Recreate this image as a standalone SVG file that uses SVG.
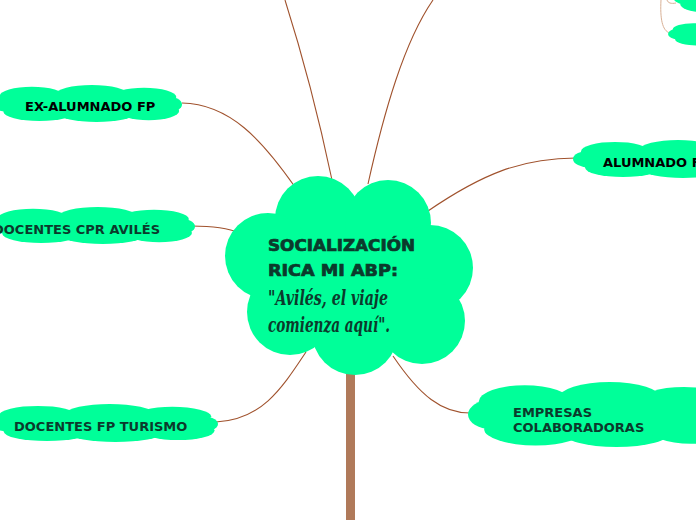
<svg xmlns="http://www.w3.org/2000/svg" xmlns:xlink="http://www.w3.org/1999/xlink" width="696" height="520" viewBox="0 0 696 520">
<style>
.cl{fill:#00FF99}
.con{fill:none;stroke:#a0522d;stroke-width:1.1}
.con2{fill:none;stroke:#d8b095;stroke-width:1}
.lbl{font-family:"DejaVu Sans",Verdana,sans-serif;font-weight:bold;font-size:13px}
.dk{fill:#0b3a2c}
.bk{fill:#000}
.ttl{font-family:"DejaVu Sans",sans-serif;font-weight:900;font-size:16px;fill:#0b3a2c;stroke:#0b3a2c;stroke-width:0.7}
.scr{font-family:"DejaVu Serif","Liberation Serif",serif;font-style:italic;font-weight:bold;font-size:20px;fill:#0b3a2c}
</style>
<defs>
<symbol id="cloud" viewBox="0 0 200 40" preserveAspectRatio="none">
<g class="cl">
<ellipse cx="42" cy="12" rx="34" ry="10"/>
<ellipse cx="105" cy="10" rx="38" ry="10"/>
<ellipse cx="160" cy="13" rx="34" ry="10"/>
<ellipse cx="17" cy="20" rx="17" ry="9"/>
<ellipse cx="183" cy="21" rx="17" ry="9"/>
<ellipse cx="50" cy="29" rx="38" ry="10"/>
<ellipse cx="110" cy="31" rx="40" ry="9"/>
<ellipse cx="165" cy="28" rx="32" ry="10"/>
<rect x="15" y="10" width="170" height="22"/>
</g>
</symbol>
</defs>
<rect width="696" height="520" fill="#fff"/>
<g id="connectors">
<rect x="346" y="368" width="9" height="152" fill="#b07a5a"/>
<path class="con" d="M332,180 Q312,85 285,0"/>
<path class="con" d="M368,184 C384,112 404,42 433,0"/>
<path class="con" d="M182,103 C230,104 262,140 295,187"/>
<path class="con" d="M192,226 C215,226 228,228 240,233"/>
<path class="con" d="M216,422 C262,420 282,388 306,352"/>
<path class="con" d="M428,211 C482,174 522,158 576,158"/>
<path class="con" d="M393,356 C420,396 442,413 470,413"/>
<path class="con2" d="M661,0 C660,18 662,31 670,33"/>
<path class="con2" d="M667,0 C668,3 671,4 676,3"/>
</g>
<g id="central">
<g class="cl">
<circle cx="350" cy="275" r="72"/>
<circle cx="318" cy="219" r="43"/>
<circle cx="388" cy="223" r="43"/>
<circle cx="268" cy="256" r="43"/>
<circle cx="430" cy="268" r="43"/>
<circle cx="290" cy="312" r="43"/>
<circle cx="355" cy="332" r="43"/>
<circle cx="422" cy="321" r="43"/>
</g>
<text class="ttl" x="268" y="251" textLength="147" lengthAdjust="spacingAndGlyphs">SOCIALIZACIÓN</text>
<text class="ttl" x="268" y="276" textLength="130" lengthAdjust="spacingAndGlyphs">RICA MI ABP:</text>
<text class="scr" x="268" y="305" textLength="120" lengthAdjust="spacingAndGlyphs">"Avilés, el viaje</text>
<text class="scr" x="268" y="332" textLength="122" lengthAdjust="spacingAndGlyphs">comienza aquí".</text>
</g>
<g id="n-exalumnado">
<use xlink:href="#cloud" href="#cloud" x="-8" y="85" width="190" height="37"/>
<text class="lbl bk" x="25" y="111">EX-ALUMNADO FP</text>
</g>
<g id="n-cpr">
<use xlink:href="#cloud" href="#cloud" x="-10" y="207" width="205" height="37"/>
<text class="lbl dk" x="-7" y="234">DOCENTES CPR AVILÉS</text>
</g>
<g id="n-turismo">
<use xlink:href="#cloud" href="#cloud" x="-10" y="404" width="228" height="38"/>
<text class="lbl dk" x="14" y="431">DOCENTES FP TURISMO</text>
</g>
<g id="n-alumnado">
<use xlink:href="#cloud" href="#cloud" x="573" y="140" width="200" height="38"/>
<text class="lbl bk" x="603" y="167">ALUMNADO FP</text>
</g>
<g id="n-empresas">
<use xlink:href="#cloud" href="#cloud" x="468" y="382" width="270" height="65"/>
<text class="lbl dk" x="513" y="417">EMPRESAS</text>
<text class="lbl dk" x="513" y="432">COLABORADORAS</text>
</g>
<g id="n-top1">
<use xlink:href="#cloud" href="#cloud" x="673" y="-20" width="120" height="33"/>
</g>
<g id="n-top2">
<use xlink:href="#cloud" href="#cloud" x="668" y="22" width="120" height="24"/>
</g>
</svg>
